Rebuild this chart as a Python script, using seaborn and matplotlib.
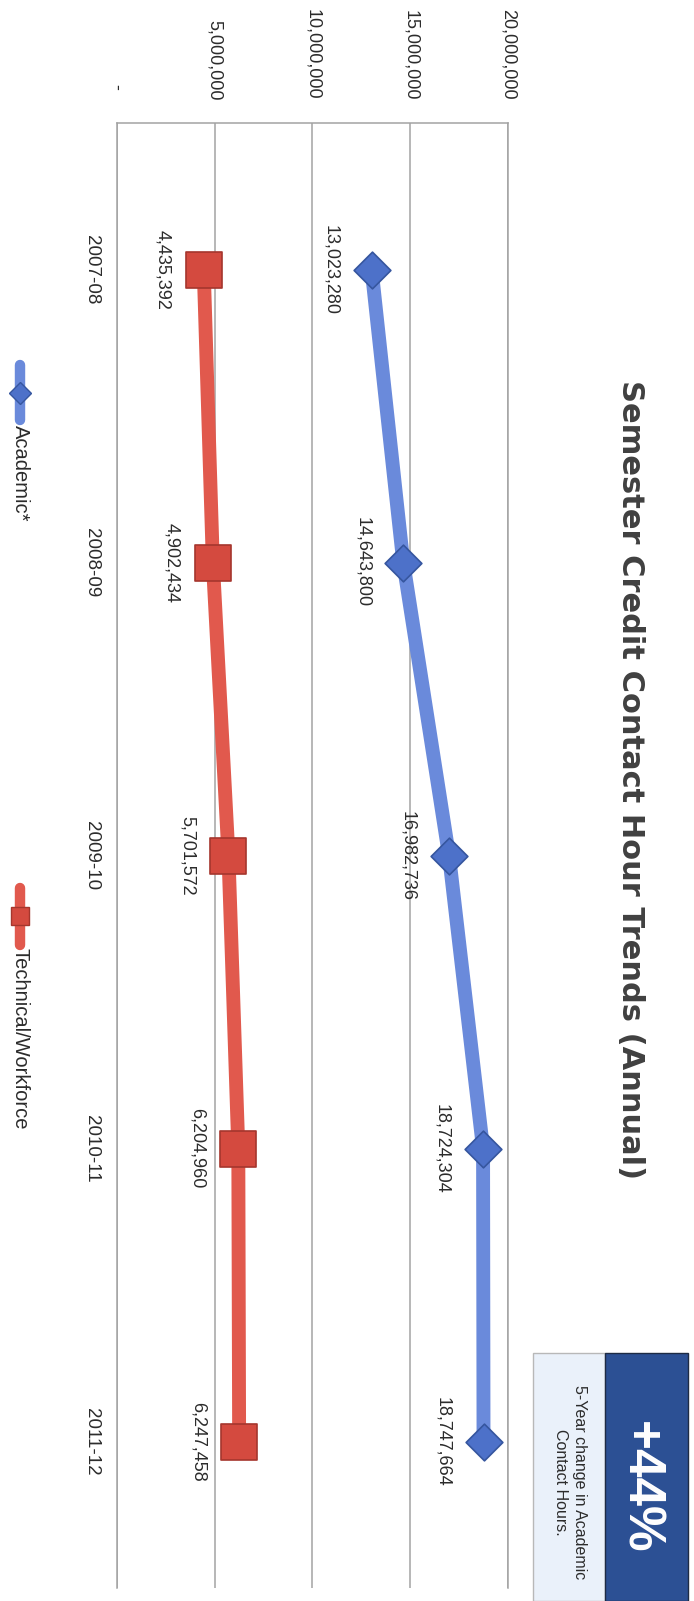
import matplotlib
matplotlib.use("Agg")
import numpy as np
import pandas as pd
import matplotlib.pyplot as plt
import seaborn as sns
from matplotlib.lines import Line2D
from matplotlib.patches import Rectangle
from matplotlib.ticker import FuncFormatter

# -------- Data --------
years = ["2007-08", "2008-09", "2009-10", "2010-11", "2011-12"]
academic = [13023280, 14643800, 16982736, 18724304, 18747664]
technical = [4435392, 4902434, 5701572, 6204960, 6247458]
value_ticks = [0, 5_000_000, 10_000_000, 15_000_000, 20_000_000]
series_names = ["Academic*", "Technical/Workforce"]
title = "Semester Credit Contact Hour Trends (Annual)"
callout_big = "+44%"
callout_small = "5-Year change in Academic\nContact Hours."

# -------- Layout helpers (page is drawn sideways) --------
W, H = 694, 1601


def fx(px):
    return px / W


def fy(py):
    return 1 - py / H


sns.set_theme(style="white")
plt.rcParams["font.family"] = ["Liberation Sans", "DejaVu Sans"]

BLUE_LINE, BLUE_MARK, BLUE_EDGE = "#6A8ADB", "#4D71C9", "#36569F"
RED_LINE, RED_MARK, RED_EDGE = "#E1594D", "#D44A3F", "#A5362D"
GRID = "#A3A3A3"
TEXT = "#2B2B2B"

df = pd.DataFrame({
    "year": years * 2,
    "pos": list(range(len(years))) * 2,
    "hours": academic + technical,
    "series": [series_names[0]] * len(years) + [series_names[1]] * len(years),
})
acad = df[df["series"] == series_names[0]]
tech = df[df["series"] == series_names[1]]

fig = plt.figure(figsize=(W / 100, H / 100), dpi=100)
ax = fig.add_axes([fx(117), fy(1588), (508 - 117) / W, (1588 - 123) / H])

# ---- lines + markers ----
for sub, lc, mc, ec, mk, ms in [
    (acad, BLUE_LINE, BLUE_MARK, BLUE_EDGE, "D", 350),
    (tech, RED_LINE, RED_MARK, RED_EDGE, "s", 660),
]:
    sns.lineplot(data=sub, x="hours", y="pos", orient="y", color=lc,
                 linewidth=10, ax=ax, legend=False, zorder=3)
    sns.scatterplot(data=sub, x="hours", y="pos", marker=mk, s=ms, color=mc,
                    edgecolor=ec, linewidth=1.2, ax=ax, legend=False, zorder=4)
    for _, row in sub.iterrows():
        ax.annotate(f"{row['hours']:,.0f}", xy=(row["hours"], row["pos"]),
                    xytext=(-29.5, 0), textcoords="offset points",
                    rotation=270, ha="center", va="center",
                    fontsize=13, color=TEXT)

# ---- axes ----
ax.set_xlim(0, 20_000_000)
ax.set_ylim(len(years) - 0.5, -0.5)
ax.set_xticks(value_ticks)
ax.xaxis.set_major_formatter(FuncFormatter(lambda v, _: "-  " if v == 0 else f"{v:,.0f}"))
ax.set_yticks(range(len(years)))
ax.set_yticklabels(years)
ax.xaxis.tick_top()
ax.set_xlabel("")
ax.set_ylabel("")
ax.tick_params(axis="x", length=0, pad=16.5, labelsize=13, labelcolor=TEXT, labelrotation=270)
ax.tick_params(axis="y", length=0, pad=12, labelsize=13.5, labelcolor=TEXT, labelrotation=270)
plt.setp(ax.get_xticklabels(), va="bottom", ha="center")
plt.setp(ax.get_yticklabels(), va="center", ha="right")

ax.grid(axis="x", color=GRID, linewidth=1.1)
ax.grid(axis="y", visible=False)
ax.set_axisbelow(True)
for side in ["top", "left", "right"]:
    ax.spines[side].set_color(GRID)
    ax.spines[side].set_linewidth(1.1)
ax.spines["bottom"].set_visible(False)

# ---- title ----
fig.text(fx(630), fy(780), title, rotation=270, ha="center", va="center",
         fontsize=22, weight="bold", color="#404040", family=["DejaVu Sans"])

# ---- legend (drawn by hand, rotated) ----
for name, lc, mc, ec, mk, msz, y0, y1, ym, yt in [
    (series_names[0], BLUE_LINE, BLUE_MARK, BLUE_EDGE, "D", 11, 365, 420, 393, 425),
    (series_names[1], RED_LINE, RED_MARK, RED_EDGE, "s", 13, 888, 945, 916, 948),
]:
    fig.add_artist(Line2D([fx(20), fx(20)], [fy(y0), fy(y1)], transform=fig.transFigure,
                          color=lc, lw=7.5, solid_capstyle="round"))
    fig.add_artist(Line2D([fx(20)], [fy(ym)], transform=fig.transFigure, marker=mk,
                          markersize=msz, markerfacecolor=mc, markeredgecolor=ec, lw=0))
    fig.text(fx(20), fy(yt), name, rotation=270, ha="center", va="top",
             fontsize=14.5, color=TEXT)

# ---- call-out box ----
fig.add_artist(Rectangle((fx(533), 0), (605 - 533) / W, (H - 1353) / H,
                         transform=fig.transFigure, facecolor="#EAF1FA",
                         edgecolor="#B8B8B8", lw=1))
fig.add_artist(Rectangle((fx(605), 0), (688 - 605) / W, (H - 1353) / H,
                         transform=fig.transFigure, facecolor="#2C5094",
                         edgecolor="#1E2B44", lw=1))
fig.text(fx(640), fy(1487), callout_big, rotation=270, ha="center", va="center",
         color="white", fontsize=37, weight="bold")
fig.text(fx(570), fy(1482), callout_small, rotation=270, ha="center", va="center",
         multialignment="center", fontsize=11.5, linespacing=1.3, color=TEXT)

fig.savefig("out.png", dpi=100)
